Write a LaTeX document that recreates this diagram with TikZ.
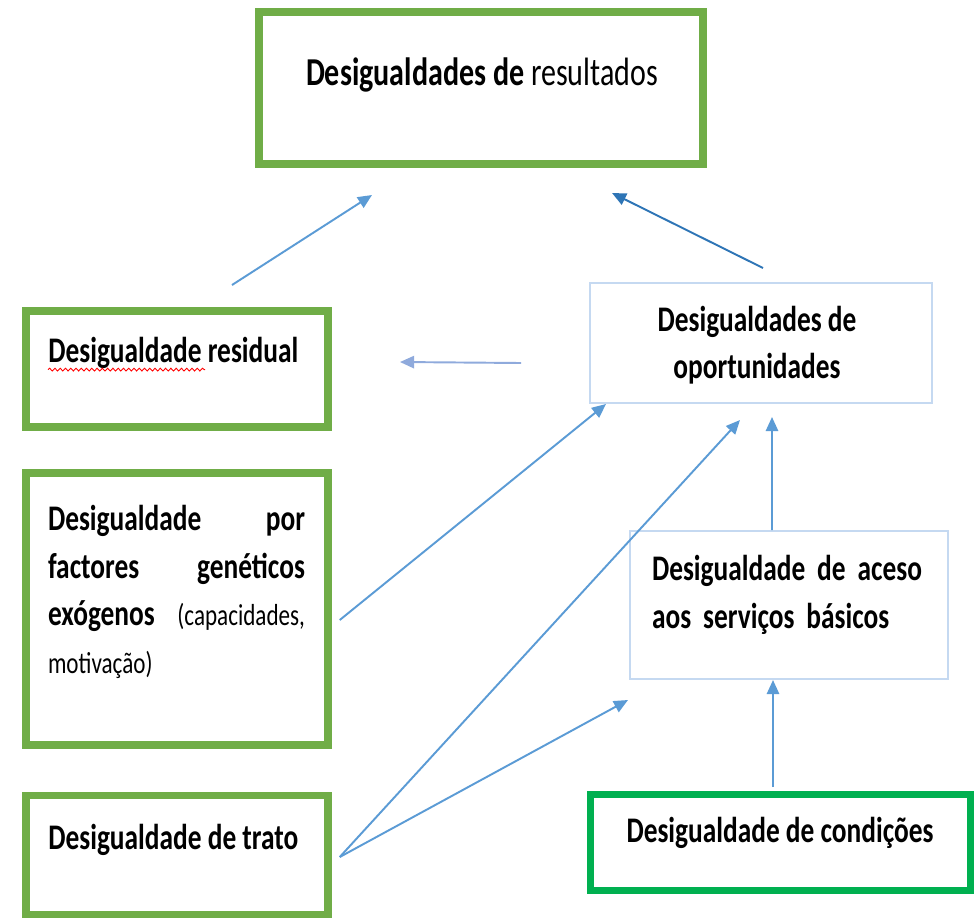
\documentclass[tikz,border=0pt]{standalone}
\usepackage{fontspec}
\setmainfont{Carlito}[FakeStretch=0.76]
\usetikzlibrary{arrows.meta,decorations.pathmorphing}

%Defining colors
\definecolor{BoxGreen}{HTML}{70AD47}
\definecolor{CondGreen}{HTML}{00B050}
\definecolor{ArrowBlue}{HTML}{5B9BD5}
\definecolor{DarkArrow}{HTML}{2E75B6}
\definecolor{PaleArrow}{HTML}{8FAADC}
\definecolor{ThinBorder}{HTML}{C5D9F1}

\tikzset{
  greenbox/.style={draw=BoxGreen,line width=4.3pt,inner sep=0pt},
  thinbox/.style={draw=ThinBorder,line width=0.9pt,inner sep=0pt},
  txt/.style={inner sep=0pt,font=\fontsize{20.5}{27}\selectfont\bfseries},
  seta/.style={ArrowBlue,line width=1.1pt,-{Triangle[length=8pt,width=7pt]}},
}

\begin{document}
\begin{tikzpicture}[x=0.02cm,y=-0.02cm]
\useasboundingbox (0,0) rectangle (977,923);

%Resultados
\node[greenbox,minimum width=8.88cm,minimum height=3.04cm] (res) at (481,88) {};
\node[txt,font=\fontsize{22.5}{27}\selectfont\bfseries] (resT) at (482,75) {Desigualdades de \mdseries resultados};

%Residual
\node[greenbox,minimum width=6.04cm,minimum height=2.32cm] (resid) at (177,369) {};
\node[txt,anchor=west] (residT) at (48,353) {Desigualdade residual};
\draw[red,line width=0.5pt,decorate,decoration={snake,amplitude=0.8pt,segment length=3pt}]
  ([yshift=-4pt]residT.base west) -- ++(157,0);

%Factores
\node[greenbox,minimum width=6.04cm,minimum height=5.44cm] (fac) at (177,609) {};
\node[txt,text width=5.14cm,align=left] (facT) at (176.5,592)
  {Desigualdade\hfill por\\factores\hfill genéticos\\exógenos\hfill{\mdseries\fontsize{17.3}{27}\selectfont(capacidades,}\\{\mdseries\fontsize{17.3}{27}\selectfont motivação)}};

%Trato
\node[greenbox,minimum width=6.04cm,minimum height=2.38cm] (tra) at (177,855) {};
\node[txt,anchor=west] (traT) at (48,840) {Desigualdade de trato};

%Oportunidades
\node[thinbox,minimum width=6.84cm,minimum height=2.4cm] (op) at (761,343) {};
\node[txt,align=center] (opT) at (757,345) {Desigualdades de\\oportunidades};

%Aceso
\node[thinbox,minimum width=6.36cm,minimum height=2.96cm] (ac) at (789,605) {};
\node[txt,text width=5.4cm,align=left] (acT) at (787,595)
  {Desigualdade\hfill de\hfill aceso\\aos serviços básicos};

%Condicoes
\node[draw=CondGreen,line width=4pt,inner sep=0pt,minimum width=7.6cm,minimum height=1.92cm] (con) at (780.5,842.5) {};
\node[txt] (conT) at (780,833) {Desigualdade de condições};

%Free ends of arrows
\coordinate (residOut) at (232,285);
\coordinate (resIn1) at (372,195);
\coordinate (opOut) at (763,268);
\coordinate (resIn2) at (612,193);
\coordinate (opLeft) at (521,363);
\coordinate (residIn) at (400,362);
\coordinate (opIn1) at (606,404);
\coordinate (opIn2) at (740,420);
\coordinate (opIn3) at (772,417);
\coordinate (acIn1) at (628,700);
\coordinate (acIn2) at (773,680);

%Arrows
\draw[seta] (residOut) -- (resIn1);
\draw[seta,DarkArrow] (opOut) -- (resIn2);
\draw[seta,PaleArrow] (opLeft) -- (residIn);
\draw[seta] ([shift={(8,11)}]fac.east) -- (opIn1);
\draw[seta] ([shift={(8,2)}]tra.east) -- (opIn2);
\draw[seta] ([shift={(8,2)}]tra.east) -- (acIn1);
\draw[seta] ([xshift=-0.34cm]ac.north) -- (opIn3);
\draw[seta] ([shift={(-7.5,-4)}]con.north) -- (acIn2);

\end{tikzpicture}
\end{document}
